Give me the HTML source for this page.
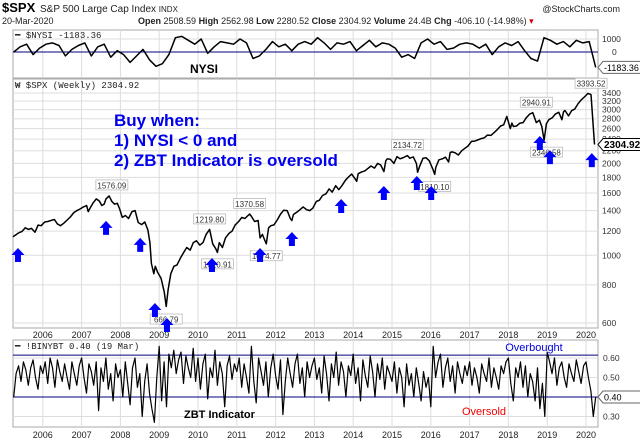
<!DOCTYPE html>
<html><head><meta charset="utf-8"><style>
body{margin:0;background:#fff;}
svg{display:block;font-family:"Liberation Sans",sans-serif;}
</style></head><body>
<svg id="chart" width="640" height="442" viewBox="0 0 640 442" xmlns="http://www.w3.org/2000/svg">
<rect x="0" y="0" width="640" height="442" fill="#fff"/>
<g>
<text x="2" y="12" font-size="13" font-weight="bold">$SPX</text>
<text x="40" y="12" font-size="10" fill="#222">S&amp;P 500 Large Cap Index <tspan font-size="8">INDX</tspan></text>
<text x="620" y="12" font-size="9" fill="#222" text-anchor="end">@StockCharts.com</text>
<text x="2" y="24" font-size="9" fill="#222">20-Mar-2020</text>
<text x="138" y="24" font-size="9" fill="#222"><tspan font-weight="bold">Open</tspan> 2508.59 <tspan font-weight="bold">High</tspan> 2562.98 <tspan font-weight="bold">Low</tspan> 2280.52 <tspan font-weight="bold">Close</tspan> 2304.92 <tspan font-weight="bold">Volume</tspan> 24.4B <tspan font-weight="bold">Chg</tspan> -406.10 (-14.98%) <tspan fill="#c00">▾</tspan></text>
</g>
<g id="grid"></g>
<g id="marks"></g>
<g id="overlay"></g>
</svg>
<script>
// ---- data ----
const yearTicks = [2006,2007,2008,2009,2010,2011,2012,2013,2014,2015,2016,2017,2018,2019,2020];
const priceTicks = [600,800,1000,1200,1400,1600,1800,2000,2200,2400,2600,2800,3000,3200,3400];
const spxDates = [2005.23,2005.3,2005.38,2005.46,2005.55,2005.63,2005.71,2005.8,2005.88,2005.96,2006.05,2006.13,2006.21,2006.3,2006.38,2006.46,2006.55,2006.63,2006.71,2006.8,2006.88,2006.96,2007.05,2007.13,2007.17,2007.21,2007.3,2007.38,2007.46,2007.52,2007.58,2007.63,2007.71,2007.78,2007.85,2007.92,2007.98,2008.05,2008.13,2008.21,2008.3,2008.38,2008.46,2008.55,2008.63,2008.71,2008.76,2008.8,2008.86,2008.9,2008.96,2009.05,2009.13,2009.18,2009.23,2009.3,2009.38,2009.46,2009.55,2009.63,2009.71,2009.8,2009.88,2009.96,2010.05,2010.13,2010.21,2010.3,2010.38,2010.46,2010.5,2010.55,2010.63,2010.71,2010.8,2010.88,2010.96,2011.05,2011.13,2011.21,2011.33,2011.38,2011.46,2011.55,2011.6,2011.66,2011.71,2011.76,2011.82,2011.88,2011.96,2012.05,2012.13,2012.21,2012.3,2012.38,2012.42,2012.46,2012.55,2012.63,2012.71,2012.8,2012.88,2012.96,2013.05,2013.13,2013.21,2013.3,2013.38,2013.46,2013.55,2013.63,2013.71,2013.8,2013.88,2013.96,2014.05,2014.09,2014.13,2014.21,2014.3,2014.38,2014.46,2014.55,2014.63,2014.71,2014.79,2014.84,2014.88,2014.96,2015.05,2015.13,2015.21,2015.3,2015.4,2015.46,2015.55,2015.63,2015.66,2015.71,2015.8,2015.88,2015.96,2016.05,2016.1,2016.13,2016.21,2016.3,2016.38,2016.46,2016.5,2016.55,2016.63,2016.71,2016.8,2016.88,2016.96,2017.05,2017.13,2017.21,2017.3,2017.38,2017.46,2017.55,2017.63,2017.71,2017.8,2017.88,2017.96,2018.05,2018.09,2018.13,2018.21,2018.3,2018.38,2018.46,2018.55,2018.63,2018.72,2018.8,2018.86,2018.92,2018.98,2019.05,2019.13,2019.21,2019.3,2019.38,2019.42,2019.46,2019.55,2019.63,2019.71,2019.8,2019.88,2019.96,2020.05,2020.13,2020.16,2020.19,2020.22];
const spxCloses = [1150,1165,1185,1195,1230,1215,1225,1190,1255,1250,1285,1290,1300,1310,1265,1250,1276,1305,1335,1380,1400,1418,1440,1455,1390,1420,1485,1530,1505,1455,1470,1530,1565,1500,1470,1480,1420,1330,1350,1320,1390,1400,1280,1260,1285,1210,1100,940,870,920,880,840,760,680,770,870,920,930,980,1020,1060,1040,1100,1115,1080,1100,1170,1215,1090,1050,1022,1100,1060,1140,1180,1200,1257,1290,1330,1320,1365,1340,1290,1300,1140,1170,1130,1090,1230,1250,1257,1310,1365,1405,1400,1320,1300,1360,1385,1410,1440,1410,1400,1426,1500,1515,1570,1590,1650,1610,1690,1640,1690,1760,1805,1845,1780,1745,1850,1872,1890,1925,1960,1930,2000,1975,1880,2040,2070,2060,2000,2105,2070,2090,2120,2080,2100,2000,1870,1950,2080,2085,2040,1920,1840,1940,2055,2070,2095,2020,2170,2180,2165,2130,2200,2240,2280,2360,2365,2385,2410,2425,2475,2470,2520,2575,2650,2675,2850,2600,2710,2640,2650,2710,2720,2820,2900,2930,2720,2770,2640,2380,2700,2785,2820,2900,2940,2780,2950,2980,2860,2975,3010,3140,3230,3300,3390,3360,2960,2600,2304.92];
const nysiStart = 2005.25;
const nysiStep = 1/6;
const nysiValues = [0,400,600,-200,300,600,700,500,-300,200,500,700,-300,400,600,-400,100,-200,-800,-300,200,-600,-1100,-900,-200,1100,1200,900,600,1000,-100,400,800,700,600,1000,700,-500,-300,200,800,400,600,100,600,800,600,1100,700,200,700,600,800,100,500,900,400,700,600,300,-400,-200,-500,700,1000,600,800,200,300,600,700,600,300,600,-200,400,700,500,800,100,-500,-700,1100,900,600,800,400,900,700,800,-1183.36];
const zbtStart = 2005.25;
const zbtStep = 1/16;
const zbtValues = [40,52,56,48,58,54,46,55,59,50,44,56,
52,58,47,60,55,45,59,53,48,57,50,44,58,52,46,56,
60,50,42,57,53,46,58,33,55,48,60,44,52,38,57,50,
54,40,58,47,36,55,60,45,52,30,48,57,42,34,27,50,
66,38,58,35,62,55,64,52,59,63,47,61,55,50,65,48,
60,44,57,62,39,55,50,64,46,58,52,35,56,61,49,57,
53,60,45,57,50,42,66,48,37,60,53,46,58,40,55,62,
51,44,59,31,48,60,52,45,57,62,47,55,40,58,50,56,
60,49,55,42,61,52,38,57,50,63,46,58,53,40,56,51,
62,47,55,38,59,51,45,61,53,40,57,49,60,44,56,52,
48,58,42,55,50,35,57,46,52,40,55,47,38,53,45,50,
35,66,50,58,62,45,55,60,48,56,42,58,52,47,56,51,
58,46,55,50,42,57,52,48,60,45,55,50,44,56,52,58,
60,47,38,55,50,58,45,56,40,52,48,38,55,34,47,30,
63,58,52,60,46,55,58,50,45,57,52,48,59,53,47,56,
58,50,43,30,40];
const peakDates = [2007.78,2009.18,2010.3,2010.5,2011.33,2011.76,2015.4,2016.1,2018.72,2018.98,2020.13];
const peakValues = [1576.09,666.79,1219.80,1010.91,1370.58,1074.77,2134.72,1810.10,2940.91,2346.58,3393.52];
const peakIsHigh = [true,false,true,false,true,false,true,false,true,false,true];
const arrowDates = [2005.36,2007.63,2008.51,2008.89,2009.20,2010.36,2011.60,2012.42,2013.69,2014.79,2015.64,2016.01,2018.81,2019.07,2020.15];
const arrowPrices = [1002,1229,1081,662,591,929,1002,1131,1450,1600,1725,1600,2331,2096,2050];

// ---- axes ----
const L=13,R=598;
const xT = t => 586 + (t-2020)*38.8;
const yP = p => 323 - Math.log(p/600)*132.6;
const yN = v => 52 - v*0.013;
const yZ = v => 397 - (v-0.4)*195;

const NS="http://www.w3.org/2000/svg";
function mk(tag, attrs, parent, txt){
  const e=document.createElementNS(NS,tag);
  for(const k in attrs) e.setAttribute(k,attrs[k]);
  if(txt!==undefined) e.textContent=txt;
  parent.appendChild(e); return e;
}
const grid=document.getElementById('grid');
const marks=document.getElementById('marks');
const ov=document.getElementById('overlay');

const panels=[[30,78,'nysi-panel'],[79,328,'spx-panel'],[340,427,'zbt-panel']];
panels.forEach(p=>{
  const r=mk('rect',{x:L,y:p[0],width:R-L,height:p[1]-p[0],fill:'#fff',stroke:'#aaa','stroke-width':1},grid);
  
  
});
yearTicks.forEach(y=>{
  const x=xT(y);
  panels.forEach(p=>{
    const g=mk('line',{x1:x,x2:x,y1:p[0],y2:p[1],stroke:'#ddd','stroke-width':1},grid);
    
    
  });
  [338,438].forEach(yy=>{
    const t=mk('text',{x:x,y:yy,'font-size':9,'text-anchor':'middle',fill:'#222'},grid,String(y));
    
    
  });
});
priceTicks.forEach(p=>{
  const y=yP(p);
  const g=mk('line',{x1:L,x2:R,y1:y,y2:y,stroke:'#ddd','stroke-width':1},grid);
  
  
  const t=mk('text',{x:602,y:y+3,'font-size':8.5,fill:'#333'},grid,String(p));
  
  
});
[[1000,'1000'],[0,'0']].forEach(a=>{
  const y=yN(a[0]);
  const t=mk('text',{x:a[0]==0?612:602,y:y+3,'font-size':8.5,fill:'#333'},grid,a[1]);
  
  
  const g=mk('line',{x1:L,x2:R,y1:y,y2:y,stroke:a[0]==0?'#000080':'#ddd','stroke-width':1},grid);
  
  
});
[[0.6,'0.60'],[0.5,'0.50'],[0.3,'0.30']].forEach(a=>{
  const y=yZ(a[0]);
  const g=mk('line',{x1:L,x2:R,y1:y,y2:y,stroke:'#ddd','stroke-width':1},grid);
  
  
  const t=mk('text',{x:603,y:y+3,'font-size':8.5,fill:'#333'},grid,a[1]);
  
  
});
[[0.615,'overbought-line'],[0.4,'oversold-line']].forEach(a=>{
  const y=yZ(a[0]);
  const g=mk('line',{x1:L,x2:R,y1:y,y2:y,stroke:'#000080','stroke-width':1},grid);
  
  
});

function poly(xs, ys, name, w){
  let d='';
  for(let i=0;i<xs.length;i++) d+=(i?'L':'M')+xs[i].toFixed(1)+' '+ys[i].toFixed(1);
  const p=mk('path',{d:d,fill:'none',stroke:'#000','stroke-width':w,'stroke-linejoin':'round'},marks);
  
  
}
poly(spxDates.map(xT), spxCloses.map(yP), 'spx-price-line', 1.5);
poly(nysiValues.map((v,i)=>xT(nysiStart+i*nysiStep)), nysiValues.map(yN), 'nysi-line', 1.5);
poly(zbtValues.map((v,i)=>xT(zbtStart+i*zbtStep)), zbtValues.map(v=>yZ(v/100)), 'zbt-line', 1.2);

peakDates.forEach((d,i)=>{
  const x=xT(d), y=yP(peakValues[i])+(peakIsHigh[i]?-10:10);
  const txt=peakValues[i].toFixed(2);
  const r=mk('rect',{x:x-16,y:y-5,width:32,height:10,fill:'#fff',stroke:'#bbb','stroke-width':0.8},ov);
  
  
  const t=mk('text',{x:x,y:y+3.5,'font-size':8,'text-anchor':'middle',fill:'#333'},ov,txt);
  
  
});
arrowDates.forEach((d,i)=>{
  const x=xT(d), y=yP(arrowPrices[i]);
  const a=mk('path',{d:`M${x} ${y-7}L${x+6.5} ${y}L${x+3} ${y}L${x+3} ${y+7}L${x-3} ${y+7}L${x-3} ${y}L${x-6.5} ${y}Z`,fill:'#0000ff'},ov);
  
  
});
function tag(y, txt, name, bold){
  const w=bold?40:38;
  const p=mk('path',{d:`M598 ${y}L603 ${y-6}L${603+w} ${y-6}L${603+w} ${y+6}L603 ${y+6}Z`,fill:'#fff',stroke:bold?'#000':'#666','stroke-width':1},ov);
  
  
  const t=mk('text',{x:604,y:y+3.5,'font-size':bold?10:9,'font-weight':bold?'bold':'normal'},ov,txt);
  
  
}
tag(yP(2304.92),'2304.92','spx-last-value',true);
tag(yN(-1183.36),'-1183.36','nysi-last-value',false);
tag(yZ(0.40),'0.40','zbt-last-value',false);

function txt(x,y,s,attrs,name){
  const t=mk('text',Object.assign({x:x,y:y},attrs),ov,s);
  
  
}
txt(15,38,'━ $NYSI -1183.36',{'font-size':9,'font-family':'Liberation Mono, monospace',fill:'#222'},'nysi-legend');
txt(15,88,'₩ $SPX (Weekly) 2304.92',{'font-size':9,'font-family':'Liberation Mono, monospace',fill:'#222'},'spx-legend');
txt(15,349,'━ !BINYBT 0.40 (19 Mar)',{'font-size':9,'font-family':'Liberation Mono, monospace',fill:'#222'},'zbt-legend');
txt(190,73,'NYSI',{'font-size':12,'font-weight':'bold'},'nysi-annotation');
txt(184,418,'ZBT Indicator',{'font-size':11,'font-weight':'bold'},'zbt-annotation');
txt(534,351,'Overbought',{'font-size':11,fill:'#0000dd','text-anchor':'middle'},'overbought-label');
txt(484,415,'Oversold',{'font-size':11,fill:'#ee0000','text-anchor':'middle'},'oversold-label');
txt(114,126,'Buy when:',{'font-size':17,'font-weight':'bold',fill:'#0000ee'},'buy-rule-title');
txt(114,146,'1) NYSI < 0 and',{'font-size':17,'font-weight':'bold',fill:'#0000ee'},'buy-rule-1');
txt(114,166,'2) ZBT Indicator is oversold',{'font-size':17,'font-weight':'bold',fill:'#0000ee'},'buy-rule-2');
</script>
</body></html>
